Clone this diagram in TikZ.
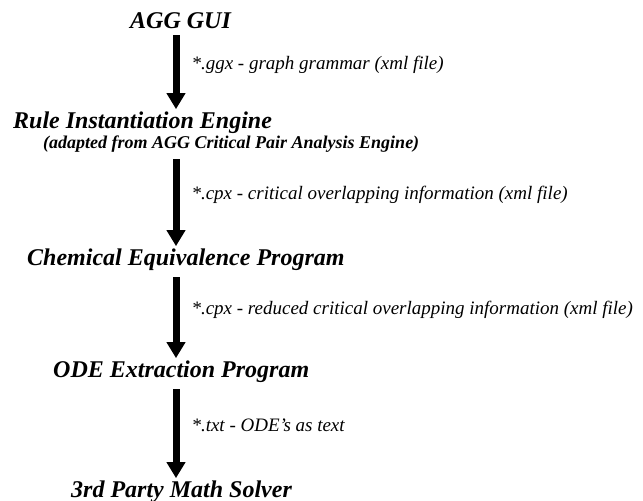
\documentclass[tikz,border=0pt]{standalone}
\usepackage{fontspec}
\setmainfont{Liberation Serif}
\usetikzlibrary{arrows.meta}

\tikzset{
  stage/.style={anchor=base west, inner sep=0pt, font=\fontsize{24}{28}\selectfont\bfseries\itshape},
  note/.style={anchor=base west, inner sep=0pt, font=\fontsize{18}{22}\selectfont\bfseries\itshape},
  flow/.style={line width=7pt, shorten <=7pt, shorten >=2pt, -{Triangle[width=18pt,length=16pt]}},
  lbl/.style={anchor=west, inner sep=0pt, xshift=12pt, font=\fontsize{19}{23}\selectfont\itshape},
}

\begin{document}
\begin{tikzpicture}[x=1pt,y=-1pt]
  \useasboundingbox (0,0) rectangle (643,501);
  \coordinate (ax) at (176,0);

  \node[stage] (agg) at (130,28) {AGG GUI};
  \node[stage] (rie) at (13,128) {Rule Instantiation Engine};
  \node[note] (adp) at (43,148) {(adapted from AGG Critical Pair Analysis Engine)};
  \node[stage] (cep) at (27,265) {Chemical Equivalence Program};
  \node[stage] (ode) at (53,377) {ODE Extraction Program};
  \node[stage] (pms) at (71,497) {3rd Party Math Solver};

  % data passed down the chain
  \foreach \a/\b/\t in {agg/rie/{*.ggx - graph grammar (xml file)},
                        adp/cep/{*.cpx - critical overlapping information (xml file)},
                        cep/ode/{*.cpx - reduced critical overlapping information (xml file)},
                        ode/pms/{*.txt - ODE’s as text}}{
    \draw[flow] (\a.south -| ax) -- node[lbl, pos=0.44] {\t} (\b.north -| ax);
  }
\end{tikzpicture}
\end{document}
